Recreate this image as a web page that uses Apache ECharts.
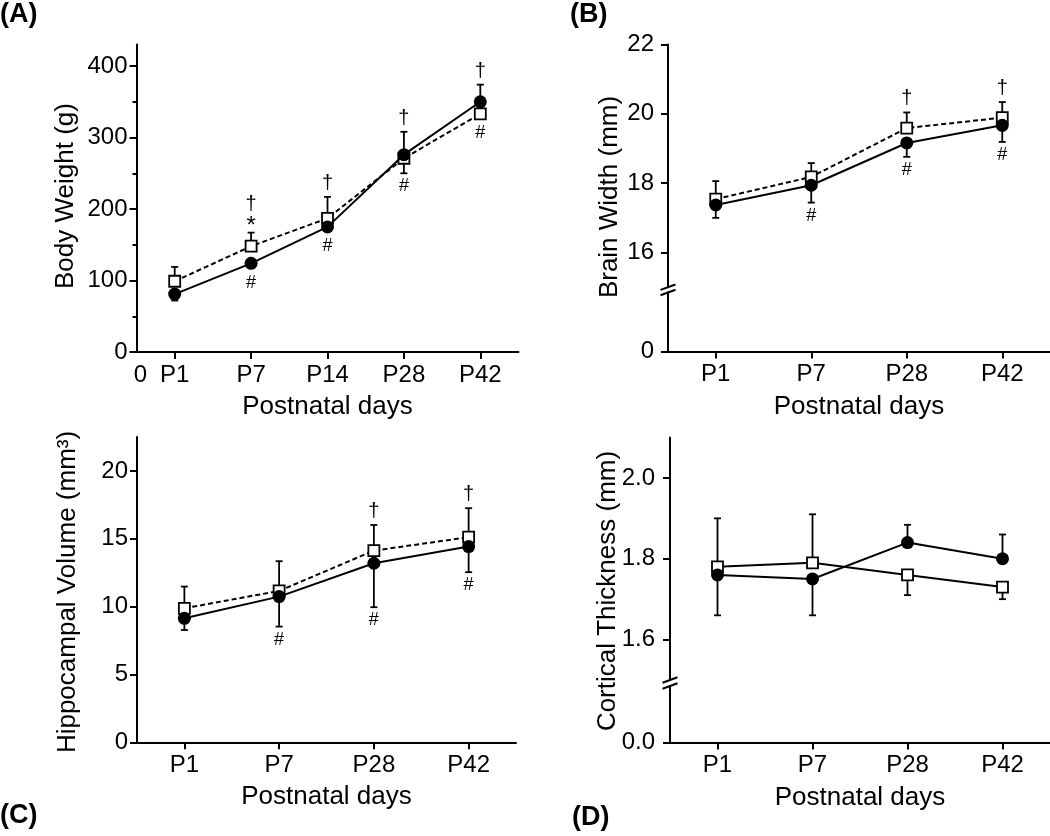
<!DOCTYPE html>
<html>
<head>
<meta charset="utf-8">
<script src="https://cdn.jsdelivr.net/npm/echarts@6/dist/echarts.min.js"></script>
<style>html,body{margin:0;padding:0;background:#fff}#c{width:1050px;height:836px}</style>
</head>
<body>
<div id="c"></div>
<script>
// ---------- DATA ----------
// (A) Body weight
const weightDays = ['P1', 'P7', 'P14', 'P28', 'P42'];
const weightCircle = [81, 124, 175, 276, 350];
const weightCircleSD = [9, 6, 5, 32, 24];
const weightSquare = [99, 148, 187, 271, 333];
const weightSquareSD = [20, 19, 30, 21, 5];
const weightYTicks = [0, 100, 200, 300, 400];
const weightYMinorTicks = [50, 150, 250, 350];
const weightDagger = [0, 1, 1, 1, 1];
const weightStar = [0, 1, 0, 0, 0];
const weightHash = [0, 1, 1, 1, 1];

// (B) Brain width
const brainDays = ['P1', 'P7', 'P28', 'P42'];
const brainCircle = [17.37, 17.94, 19.16, 19.67];
const brainCircleSD = [0.37, 0.50, 0.40, 0.48];
const brainSquare = [17.54, 18.18, 19.59, 19.89];
const brainSquareSD = [0.52, 0.40, 0.45, 0.45];
const brainYTicks = [16, 18, 20, 22];
const brainDagger = [0, 0, 1, 1];
const brainStar = [0, 0, 0, 0];
const brainHash = [0, 1, 1, 1];

// (C) Hippocampal volume
const hippoDays = ['P1', 'P7', 'P28', 'P42'];
const hippoCircle = [9.14, 10.74, 13.2, 14.43];
const hippoCircleSD = [0.86, 2.21, 3.24, 1.89];
const hippoSquare = [9.88, 11.16, 14.13, 15.12];
const hippoSquareSD = [1.6, 2.19, 1.89, 2.14];
const hippoYTicks = [0, 5, 10, 15, 20];
const hippoDagger = [0, 0, 1, 1];
const hippoStar = [0, 0, 0, 0];
const hippoHash = [0, 1, 1, 1];

// (D) Cortical thickness
const cortexDays = ['P1', 'P7', 'P28', 'P42'];
const cortexCircle = [1.76, 1.75, 1.84, 1.80];
const cortexCircleSD = [0.10, 0.09, 0.044, 0.06];
const cortexSquare = [1.78, 1.79, 1.76, 1.73];
const cortexSquareSD = [0.12, 0.12, 0.05, 0.03];
const cortexYTicks = [1.6, 1.8, 2.0];
const noMarks = [0, 0, 0, 0];

// ---------- STYLE / LAYOUT ----------
const BLACK = '#000';
const FONT = '"Liberation Sans", Arial, Helvetica, sans-serif';
const TICK_FS = 24, TITLE_FS = 26;

const grids = [], xAxes = [], yAxes = [], series = [], graphics = [];

function addGrid(b) {
  grids.push({left: b.left, top: b.top, width: b.width, height: b.height, outerBoundsMode: 'none'});
  return grids.length - 1;
}

function addX(g, days, opt) {
  opt = opt || {};
  const tickVals = days.map((_, i) => i + 1);
  const labelVals = opt.zeroAt != null ? [opt.zeroAt].concat(tickVals) : tickVals;
  const labelTexts = opt.zeroAt != null ? ['0'].concat(days) : days;
  xAxes.push({
    type: 'value', gridIndex: g, min: 0.5, max: days.length + 0.5, position: 'bottom',
    show: opt.show !== false,
    axisLine: {show: true, onZero: false, lineStyle: {color: BLACK, width: 2}},
    axisTick: {show: true, customValues: tickVals, length: 7, lineStyle: {color: BLACK, width: 2}},
    axisLabel: {
      show: true, customValues: labelVals, margin: 11, color: BLACK, fontSize: TICK_FS, fontFamily: FONT,
      formatter: v => { const k = labelVals.findIndex(u => Math.abs(u - v) < 1e-6); return k < 0 ? '' : labelTexts[k]; }
    },
    splitLine: {show: false},
    name: opt.name || '', nameLocation: 'middle', nameGap: 42,
    nameTextStyle: {color: BLACK, fontSize: TITLE_FS, fontFamily: FONT}
  });
  return xAxes.length - 1;
}

function addY(g, min, max, ticks, opt) {
  opt = opt || {};
  yAxes.push({
    type: 'value', gridIndex: g, min: min, max: max, position: 'left',
    axisLine: {show: opt.line !== false, onZero: false, lineStyle: {color: BLACK, width: 2}},
    axisTick: {show: true, customValues: ticks, length: opt.tickLen || 7, lineStyle: {color: BLACK, width: 2}},
    axisLabel: {show: opt.labels !== false, customValues: ticks, margin: opt.margin || 9, color: BLACK,
      fontSize: TICK_FS, fontFamily: FONT, formatter: opt.fmt},
    splitLine: {show: false}
  });
  return yAxes.length - 1;
}

function lineSeries(xi, yi, values, isCircle, dashed) {
  return {
    type: 'line', xAxisIndex: xi, yAxisIndex: yi, data: values.map((v, i) => [i + 1, v]),
    symbol: isCircle ? 'circle' : 'rect', symbolSize: isCircle ? 13 : 11, showSymbol: true,
    itemStyle: isCircle ? {color: BLACK} : {color: '#fff', borderColor: BLACK, borderWidth: 1.8},
    lineStyle: {color: BLACK, width: 2, type: dashed ? [5, 3] : 'solid'},
    z: isCircle ? 4 : 3, silent: true, animation: false, emphasis: {disabled: true}
  };
}

// error bar goes away from the other group's mean
function errorSeries(xi, yi, means, sds, others) {
  return {
    type: 'custom', xAxisIndex: xi, yAxisIndex: yi, z: 2, silent: true, animation: false,
    data: means.map((m, i) => [i + 1, m, sds[i], others[i]]),
    renderItem: function (params, api) {
      const x = api.value(0), m = api.value(1), sd = api.value(2), o = api.value(3);
      const e = m >= o ? m + sd : m - sd;
      const p0 = api.coord([x, m]), p1 = api.coord([x, e]);
      const hw = 3.5, st = {stroke: BLACK, lineWidth: 1.8};
      return {type: 'group', children: [
        {type: 'line', shape: {x1: p0[0], y1: p0[1], x2: p1[0], y2: p1[1]}, style: st},
        {type: 'line', shape: {x1: p1[0] - hw, y1: p1[1], x2: p1[0] + hw, y2: p1[1]}, style: st}
      ]};
    }
  };
}

function txt(s, x, y, fs) {
  return {type: 'text', x: x, y: y, style: {text: s, fill: BLACK, font: fs + 'px ' + FONT,
    align: 'center', verticalAlign: 'middle', textAlign: 'center', textVerticalAlign: 'middle'}};
}

function annotSeries(xi, yi, circ, cSD, sq, sSD, dagger, star, hash) {
  return {
    type: 'custom', xAxisIndex: xi, yAxisIndex: yi, z: 5, silent: true, animation: false,
    data: circ.map((v, i) => [i + 1, v]),
    renderItem: function (params, api) {
      const i = params.dataIndex, x = i + 1;
      let top = Infinity, bot = -Infinity, px = 0;
      [[circ[i], cSD[i], sq[i], 6.5], [sq[i], sSD[i], circ[i], 6]].forEach(function (d) {
        const m = d[0], e = d[0] >= d[2] ? d[0] + d[1] : d[0] - d[1];
        const pm = api.coord([x, m]), pe = api.coord([x, e]);
        px = pm[0];
        top = Math.min(top, pe[1], pm[1] - d[3]);
        bot = Math.max(bot, pe[1], pm[1] + d[3]);
      });
      const ch = [];
      let y = top;
      if (star[i]) { ch.push(txt('*', px, y - 6, 24)); y -= 15; }
      if (dagger[i]) ch.push(txt('\u2020', px, y - 13.5, 20));
      if (hash[i]) ch.push(txt('#', px, bot + 13, 18));
      return {type: 'group', children: ch};
    }
  };
}

function breakMarks(x, yUpper, yLower) {
  [yUpper, yLower].forEach(function (y) {
    graphics.push({type: 'line', shape: {x1: x - 7.5, y1: y + 2.7, x2: x + 7.5, y2: y - 2.7},
      style: {stroke: BLACK, lineWidth: 2}, z: 100});
  });
}

function yTitle(s, x, y) {
  graphics.push({type: 'text', x: x, y: y, rotation: Math.PI / 2, z: 100,
    style: {text: s, fill: BLACK, font: TITLE_FS + 'px ' + FONT,
      align: 'center', verticalAlign: 'middle', textAlign: 'center', textVerticalAlign: 'middle'}});
}
function panelLetter(s, x, y) {
  graphics.push({type: 'text', x: x, y: y, z: 100,
    style: {text: s, fill: BLACK, font: 'bold 27px ' + FONT,
      align: 'left', verticalAlign: 'middle', textAlign: 'left', textVerticalAlign: 'middle'}});
}

function addPanelSeries(xi, yi, circ, cSD, sq, sSD, dashed, dag, star, hash) {
  series.push(errorSeries(xi, yi, sq, sSD, circ));
  series.push(errorSeries(xi, yi, circ, cSD, sq));
  series.push(lineSeries(xi, yi, sq, false, dashed));
  series.push(lineSeries(xi, yi, circ, true, false));
  series.push(annotSeries(xi, yi, circ, cSD, sq, sSD, dag, star, hash));
}

// ---------- PANEL A ----------
(function () {
  const g = addGrid({left: 136.5, top: 44.6, width: 382, height: 307.4});
  const xi = addX(g, weightDays, {name: 'Postnatal days', zeroAt: 0.55});
  const yi = addY(g, 0, 430, weightYTicks, {margin: 9});
  addY(g, 0, 430, weightYMinorTicks, {line: false, labels: false, tickLen: 4});
  addPanelSeries(xi, yi, weightCircle, weightCircleSD, weightSquare, weightSquareSD, true, weightDagger, weightStar, weightHash);
  yTitle('Body Weight (g)', 66, 196);
  panelLetter('(A)', 0, 15);
})();

// ---------- PANEL B ----------
(function () {
  const gt = addGrid({left: 668, top: 44.5, width: 382, height: 242.7});
  const gb = addGrid({left: 668, top: 292.5, width: 382, height: 58.9});
  const xt = addX(gt, brainDays, {show: false});
  const yt = addY(gt, 15, 22, brainYTicks, {margin: 14});
  addX(gb, brainDays, {name: 'Postnatal days'});
  addY(gb, 0, 1.7, [0], {margin: 14});
  addPanelSeries(xt, yt, brainCircle, brainCircleSD, brainSquare, brainSquareSD, true, brainDagger, brainStar, brainHash);
  breakMarks(668, 287.2, 292.5);
  yTitle('Brain Width (mm)', 610, 197);
  panelLetter('(B)', 570, 15);
})();

// ---------- PANEL C ----------
(function () {
  const g = addGrid({left: 137, top: 437.1, width: 379, height: 305.2});
  const xi = addX(g, hippoDays, {name: 'Postnatal days'});
  const yi = addY(g, 0, 22.5, hippoYTicks, {margin: 9});
  addPanelSeries(xi, yi, hippoCircle, hippoCircleSD, hippoSquare, hippoSquareSD, true, hippoDagger, hippoStar, hippoHash);
  yTitle('Hippocampal Volume (mm\u00B3)', 68, 592);
  panelLetter('(C)', 0, 816);
})();

// ---------- PANEL D ----------
(function () {
  const gt = addGrid({left: 670, top: 437.5, width: 380, height: 242.5});
  const gb = addGrid({left: 670, top: 686, width: 380, height: 56.6});
  const xt = addX(gt, cortexDays, {show: false});
  const fmt = v => v.toFixed(1);
  const yt = addY(gt, 1.5, 2.1, cortexYTicks, {margin: 15, fmt: fmt});
  addX(gb, cortexDays, {name: 'Postnatal days'});
  addY(gb, 0, 0.14, [0], {margin: 15, fmt: fmt});
  addPanelSeries(xt, yt, cortexCircle, cortexCircleSD, cortexSquare, cortexSquareSD, false, noMarks, noMarks, noMarks);
  breakMarks(670, 680, 686);
  yTitle('Cortical Thickness (mm)', 608, 591);
  panelLetter('(D)', 572, 818);
})();

const chart = echarts.init(document.getElementById('c'), null, {renderer: 'canvas'});
chart.setOption({
  animation: false,
  backgroundColor: '#fff',
  grid: grids, xAxis: xAxes, yAxis: yAxes, series: series, graphic: graphics
});
</script>
</body>
</html>
